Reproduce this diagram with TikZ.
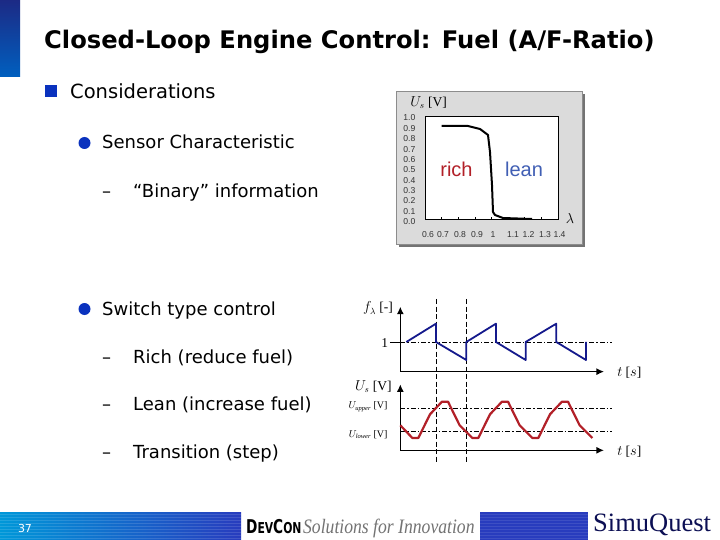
\documentclass[tikz,border=0pt]{standalone}
\usepackage{fontspec}
\setmainfont{DejaVu Sans}
\newfontfamily\serif{Liberation Serif}
\newfontfamily\arial{Liberation Sans}
\usetikzlibrary{arrows.meta}
\definecolor{bulletblue}{RGB}{10,50,190}
\definecolor{bandblue}{RGB}{40,60,190}
\definecolor{curvered}{RGB}{178,32,40}
\definecolor{curveblue}{RGB}{20,25,140}
\definecolor{leanblue}{RGB}{65,95,180}
\tikzset{
  x=1pt,y=-1pt,
  toptext/.style={anchor=base west,inner sep=0pt,font=\fontsize{19.5}{22}\selectfont},
  subtext/.style={anchor=base west,inner sep=0pt,font=\fontsize{18}{20}\selectfont},
  tick/.style={inner sep=0pt,font=\arial\fontsize{8.6}{10}\selectfont,text=black!80},
  axlabel/.style={inner sep=0pt,font=\serif\fontsize{13.5}{15}\selectfont},
  smlabel/.style={inner sep=0pt,anchor=east,font=\serif\fontsize{10}{12}\selectfont},
  axisline/.style={line width=1.3pt,-{Latex[length=7.5pt,width=7pt]}},
  guide/.style={line width=0.7pt,dash pattern=on 5pt off 2pt on 1.5pt off 2pt},
  vguide/.style={line width=0.7pt,dash pattern=on 5pt off 2.5pt},
}
\newcommand{\subsc}[1]{\mbox{\serif\itshape\fontsize{6.5}{7}\selectfont #1}}
\begin{document}
\begin{tikzpicture}
\useasboundingbox (0,0) rectangle (720,540);
\fill[white] (0,0) rectangle (720,540);
% top-left bar
\fill[top color=bandblue!70!black,bottom color=blue!50!cyan!75!black] (0,0) rectangle (20,77);
% title
\node[anchor=base west,inner sep=0pt,font=\bfseries\fontsize{24.2}{26}\selectfont] (title) at (44,49) {Closed-Loop Engine Control: Fuel (A/F-Ratio)};
% bullets
\fill[bulletblue] (45,85) rectangle (57,97);
\node[toptext] (t1) at (70,99) {Considerations};
\fill[bulletblue] (84.5,143) circle (6);
\node[subtext] (t2) at (102,149) {Sensor Characteristic};
\node[subtext] (d1) at (102,197) {–};
\node[subtext] (t3) at (133,197) {“Binary” information};
\fill[bulletblue] (84.5,309) circle (6);
\node[subtext] (t4) at (102,315) {Switch type control};
\node[subtext] (d2) at (102,363) {–};
\node[subtext] (t5) at (133,363) {Rich (reduce fuel)};
\node[subtext] (d3) at (102,410) {–};
\node[subtext] (t6) at (133,410) {Lean (increase fuel)};
\node[subtext] (d4) at (102,458) {–};
\node[subtext] (t7) at (133,458) {Transition (step)};
% chart panel
\fill[black!55] (399,94) rectangle (585,247);
\fill[black!14] (396,91) rectangle (582,244);
\draw[black!45,line width=0.5pt] (396,91) rectangle (582,244);
\fill[white] (425,116) rectangle (558,219);
\draw[black,line width=0.7pt] (425,116) rectangle (558,219);
\foreach \i in {1,...,7}{
  \draw[black,line width=0.3pt] ({425+\i*16.6},116) -- ++(0,1.5);
  \draw[black,line width=0.3pt] ({425+\i*16.6},219) -- ++(0,-1.5);
}
\node[axlabel] (us1) at (428.5,103) {$U_{s}$ [V]};
\foreach \v/\l in {0/1.0,1/0.9,2/0.8,3/0.7,4/0.6,5/0.5,6/0.4,7/0.3,8/0.2,9/0.1,10/0.0}{
  \node[tick,anchor=east] at (415.5,{118+\v*10.35}) {\l};
}
\foreach \x/\l in {428/0.6,443/0.7,460/0.8,477/0.9,493/1,513/1.1,528.5/1.2,545/1.3,559.5/1.4}{
  \node[tick,anchor=base] at (\x,237) {\l};
}
\node[axlabel] (lam) at (570,218) {$\lambda$};
\draw[black,line width=2pt,line join=round]
 (441.5,126) -- (468,126) -- (480,129) -- (488,135) -- (490,152) -- (492,185)
 -- (493,212) -- (495,215) -- (503,218) -- (532,219);
\node[inner sep=0pt,text=curvered,font=\arial\fontsize{20}{22}\selectfont] (rich) at (456.5,169.5) {rich};
\node[inner sep=0pt,text=leanblue,font=\arial\fontsize{20}{22}\selectfont] (lean) at (524,169.5) {lean};
% control plots
\begin{scope}[shift={(340,290)},x=0.3333pt,y=-0.3333pt]
 \draw[vguide] (289,27) -- (289,520);
 \draw[vguide] (379,27) -- (379,520);
 \draw[guide] (181,156) -- (815,156);
 \draw[guide] (181,355) -- (815,355);
 \draw[guide] (181,425) -- (815,425);
 \coordinate (a0) at (181,245);
 \coordinate (a1) at (181,50);
 \coordinate (a2) at (792,245);
 \coordinate (b0) at (181,481);
 \coordinate (b1) at (181,283);
 \coordinate (b2) at (792,481);
 \draw[axisline] (a0) -- (a1);
 \draw[axisline] (a0) -- (a2);
 \draw[axisline] (b0) -- (b1);
 \draw[axisline] (b0) -- (b2);
 \draw[curveblue,line width=1.8pt,line join=round]
  (199,156) -- (288,101) -- (288,156) -- (379,210) -- (379,156) -- (468,101) -- (468,156)
  -- (557,210) -- (557,156) -- (649,101) -- (649,156) -- (738,210) -- (738,156);
 \draw[curvered,line width=2.2pt,line join=round]
  (181,406) -- (217,444) -- (235,444) -- (270,373) -- (306,335) -- (324,335) -- (359,406)
  -- (397,444) -- (415,444) -- (450,373) -- (486,335) -- (504,335) -- (539,406)
  -- (577,444) -- (595,444) -- (630,373) -- (666,335) -- (684,335) -- (719,406) -- (757,444);
 \node[axlabel] (fl) at (114,55) {$f_{\lambda}$ [-]};
 \node[axlabel] (one) at (134,158) {1};
 \draw[line width=0.7pt] (150,156) -- (181,156);
 \node[axlabel] (t1x) at (868,248) {$t$ [$s$]};
 \node[axlabel] (us2) at (100,290) {$U_{s}$ [V]};
 \node[smlabel] (up) at (143,350) {$U_{\subsc{upper}}$ [V]};
 \node[smlabel] (lo) at (143,434) {$U_{\subsc{lower}}$ [V]};
 \node[axlabel] (t2x) at (868,484) {$t$ [$s$]};
\end{scope}
% footer
\fill[left color=cyan!70!blue!85!black,right color=bandblue] (0,512) rectangle (241,540);
\foreach \y in {514,517,...,538}{\fill[white,opacity=0.13] (0,\y) rectangle (241,{\y+1});}
\node[inner sep=0pt,text=white,font=\fontsize{11}{13}\selectfont] (page) at (25,528) {37};
\node[anchor=base west,inner sep=0pt,xscale=0.72,font=\bfseries\fontsize{15}{17}\selectfont,text=black] (dev) at (246,533) {{\fontsize{19}{20}\selectfont D}EV{\fontsize{19}{20}\selectfont C}ON};
\node[anchor=base west,inner sep=0pt,xscale=0.86,font=\serif\itshape\fontsize{20.5}{22}\selectfont,text=black!55] (sol) at (303,533) {Solutions for Innovation};
\fill[bandblue] (480,512) rectangle (588,540);
\foreach \y in {514,517,...,538}{\fill[white,opacity=0.1] (480,\y) rectangle (588,{\y+1});}
\node[anchor=base west,inner sep=0pt,font=\serif\fontsize{26.5}{28}\selectfont,text=curveblue!60!black] (sq) at (593,531) {SimuQuest};
\end{tikzpicture}
\end{document}
